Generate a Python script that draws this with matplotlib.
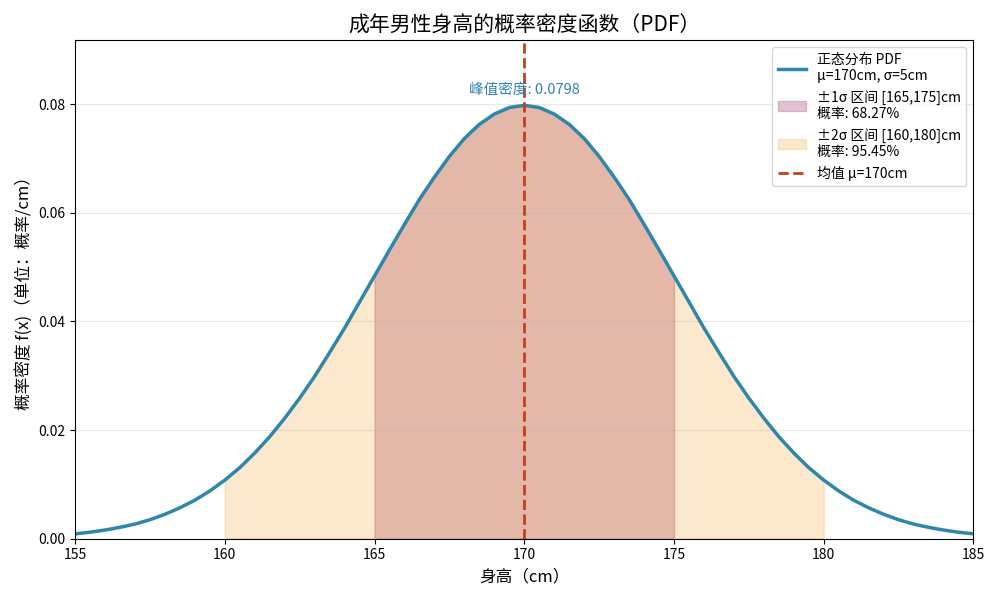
import matplotlib
matplotlib.use('Agg')
import matplotlib.pyplot as plt
import numpy as np

plt.rcParams['font.family'] = ['Noto Sans CJK SC', 'DejaVu Sans']
plt.rcParams['axes.unicode_minus'] = False

# heights (cm), read at 0.5 cm steps
height = np.arange(155, 185.5, 0.5)
# density values
density = [0.0009, 0.0012, 0.0016, 0.0021, 0.0027, 0.0035, 0.0045, 0.0057, 0.0071, 0.0088,
           0.0108, 0.0131, 0.0158, 0.0188, 0.0222, 0.0259, 0.0299, 0.0343, 0.0388, 0.0436,
           0.0484, 0.0532, 0.0579, 0.0625, 0.0666, 0.0704, 0.0737, 0.0763, 0.0782, 0.0794,
           0.0798,
           0.0794, 0.0782, 0.0763, 0.0737, 0.0704, 0.0666, 0.0625, 0.0579, 0.0532, 0.0484,
           0.0436, 0.0388, 0.0343, 0.0299, 0.0259, 0.0222, 0.0188, 0.0158, 0.0131, 0.0108,
           0.0088, 0.0071, 0.0057, 0.0045, 0.0035, 0.0027, 0.0021, 0.0016, 0.0012, 0.0009]
density = np.array(density)

mu = 170
peak = 0.0798
one_sigma = (165, 175)
two_sigma = (160, 180)
one_prob = 68.27
two_prob = 95.45

fig, ax = plt.subplots(figsize=(10, 6), dpi=100)

ax.plot(height, density, color='#2E86AB', linewidth=2.5,
        label='正态分布 PDF\nμ=170cm, σ=5cm')

m1 = (height >= one_sigma[0]) & (height <= one_sigma[1])
ax.fill_between(height[m1], density[m1], color='#A23B72', alpha=0.3,
                label=f'±1σ 区间 [{one_sigma[0]},{one_sigma[1]}]cm\n概率: {one_prob:.2f}%')
m2 = (height >= two_sigma[0]) & (height <= two_sigma[1])
ax.fill_between(height[m2], density[m2], color='#F18F01', alpha=0.2,
                label=f'±2σ 区间 [{two_sigma[0]},{two_sigma[1]}]cm\n概率: {two_prob:.2f}%')

ax.axvline(mu, color='#C73E1D', linestyle='--', linewidth=2, label='均值 μ=170cm')

ax.text(mu, peak + 0.0015, f'峰值密度: {peak:.4f}', ha='center', va='bottom',
        fontsize=10.5, color='#2E86AB')

ax.set_title('成年男性身高的概率密度函数（PDF）', fontsize=15)
ax.set_xlabel('身高（cm）', fontsize=12)
ax.set_ylabel('概率密度 f(x)（单位：概率/cm）', fontsize=12)
ax.set_xlim(155, 185)
ax.set_ylim(0, peak * 1.15)
ax.grid(True, axis='y', alpha=0.3)
ax.legend(loc='upper right', fontsize=10)

fig.tight_layout()
fig.savefig('out.png', dpi=100)
